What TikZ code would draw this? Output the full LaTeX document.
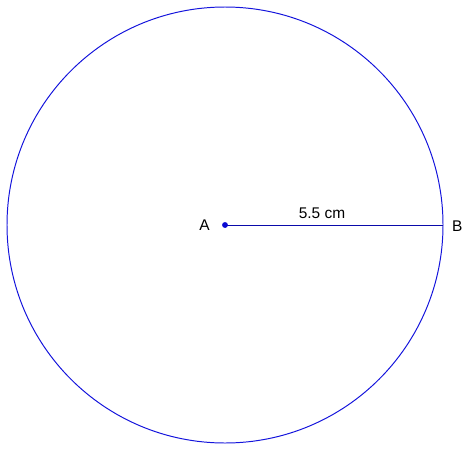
\documentclass[tikz,border=0pt]{standalone}
\usepackage{fontspec}
\setmainfont{Liberation Sans}
\usetikzlibrary{positioning}

\begin{document}
\begin{tikzpicture}[
  x=0.025cm, y=0.025cm,
  font=\fontsize{11}{13}\selectfont,
  line/.style={draw={rgb,255:red,20;green,20;blue,220}, line width=0.7pt},
  radius/.style={draw={rgb,255:red,10;green,10;blue,170}, line width=0.7pt},
  dot/.style={circle, fill={rgb,255:red,10;green,10;blue,210}, inner sep=0pt, minimum size=4.2pt}
]
\useasboundingbox (0,0) rectangle (465,463);

% Points
\coordinate (A) at (225,238);
\coordinate (B) at (443,238);

% Circle and radius
\draw [line] (A) circle (218);
\draw [radius] (A) -- node[above=1pt, pos=0.445, text=black] {5.5 cm} (B);
\node (dotA) [dot] at (A) {};

% Labels
\node (labA) [left=5pt of dotA] {A};
\node (labB) [right=3pt of B, yshift=-1pt] {B};

\end{tikzpicture}
\end{document}
